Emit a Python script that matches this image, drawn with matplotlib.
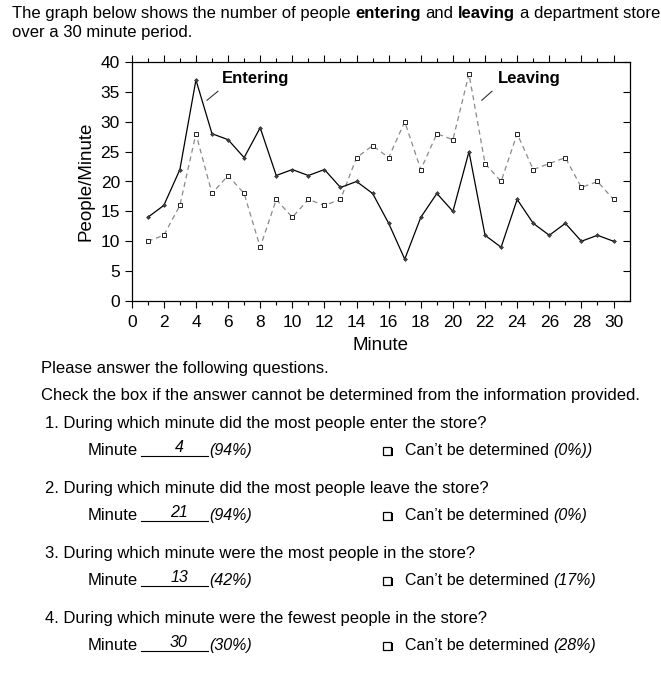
import matplotlib
matplotlib.use("Agg")
import matplotlib.pyplot as plt
from matplotlib.lines import Line2D
from matplotlib.patches import Rectangle

plt.rcParams['font.family'] = ['Liberation Sans', 'DejaVu Sans']

# data
minutes = list(range(1, 31))
entering = [14, 16, 22, 37, 28, 27, 24, 29, 21, 22, 21, 22, 19, 20, 18,
            13, 7, 14, 18, 15, 25, 11, 9, 17, 13, 11, 13, 10, 11, 10]
leaving = [10, 11, 16, 28, 18, 21, 18, 9, 17, 14, 17, 16, 17, 24, 26,
           24, 30, 22, 28, 27, 38, 23, 20, 28, 22, 23, 24, 19, 20, 17]

questions = [
    "1. During which minute did the most people enter the store?",
    "2. During which minute did the most people leave the store?",
    "3. During which minute were the most people in the store?",
    "4. During which minute were the fewest people in the store?",
]
answers = ["4", "21", "13", "30"]
answer_pct = ["(94%)", "(94%)", "(42%)", "(30%)"]
cant_pct = ["(0%))", "(0%)", "(17%)", "(28%)"]

W, H = 661, 674
fig = plt.figure(figsize=(W / 100, H / 100), dpi=100)
renderer = fig.canvas.get_renderer()


def fx(px):
    return px / W


def fy(py):
    return 1 - py / H


def text_width(s, **kw):
    t = fig.text(0, 0, s, **kw)
    w = t.get_window_extent(renderer).width
    t.remove()
    return w


def run_text(x, y, parts, size=11):
    # parts: list of (string, weight, style); words separated by explicit spaces
    space = text_width("x x", fontsize=size) - text_width("xx", fontsize=size)
    for i, (s, weight, style) in enumerate(parts):
        if i > 0:
            x += space
        t = fig.text(fx(x), fy(y), s, fontsize=size, fontweight=weight,
                     fontstyle=style, va='baseline', ha='left')
        x += t.get_window_extent(renderer).width


# header text
run_text(12, 18, [("The graph below shows the number of people", 'normal', 'normal'),
                  ("entering", 'bold', 'normal'),
                  ("and", 'normal', 'normal'),
                  ("leaving", 'bold', 'normal'),
                  ("a department store", 'normal', 'normal')], size=12)
run_text(12, 37, [("over a 30 minute period.", 'normal', 'normal')], size=12)

# the chart
ax = fig.add_axes([131.7 / W, 1 - 301 / H, (629.6 - 131.7) / W, (301 - 62) / H])
ax.plot(minutes, leaving, color='#8a8a8a', lw=0.9, ls=(0, (4, 3)),
        marker='s', ms=3.2, mfc='white', mec='#222222', mew=0.7)
ax.plot(minutes, entering, color='black', lw=0.9,
        marker='D', ms=2.0, mfc='#444444', mec='#222222', mew=0.4)

ax.set_xlim(0, 31)
ax.set_ylim(0, 40)
ax.set_xticks(range(0, 31, 2))
ax.set_xticks(range(1, 31, 2), minor=True)
ax.set_yticks(range(0, 41, 5))
ax.tick_params(axis='x', which='both', direction='out', top=True,
               labelsize=12.5, width=0.8, pad=5)
ax.tick_params(axis='x', which='major', length=5)
ax.tick_params(axis='x', which='minor', length=3)
ax.tick_params(axis='y', which='major', direction='out', length=5,
               labelsize=12.5, width=0.8)
ax.tick_params(axis='y', which='major', right=True)
for tk in ax.yaxis.get_major_ticks():
    tk.tick2line.set_marker(matplotlib.markers.TICKLEFT)
for sp in ax.spines.values():
    sp.set_linewidth(0.9)

ax.set_xlabel("Minute", fontsize=13.5, labelpad=5)
ax.set_ylabel("People/Minute", fontsize=13.5, labelpad=4)

ax.text(5.6, 37.3, "Entering", fontsize=12, fontweight='bold', va='center')
ax.plot([4.69, 5.37], [33.6, 35.1], color='#333333', lw=0.8)
ax.text(22.8, 37.3, "Leaving", fontsize=12, fontweight='bold', va='center')
ax.plot([21.8, 22.43], [33.6, 35.1], color='#333333', lw=0.8)

# questions below the chart
run_text(41, 373, [("Please answer the following questions.", 'normal', 'normal')], size=12)
run_text(41, 400, [("Check the box if the answer cannot be determined from the information provided.",
                    'normal', 'normal')], size=12)

q_base = [428, 493, 558, 623]
for q, ans, pct, cpct, yb in zip(questions, answers, answer_pct, cant_pct, q_base):
    run_text(45, yb, [(q, 'normal', 'normal')], size=12)
    ya = yb + 27
    fig.text(fx(88), fy(ya), "Minute", fontsize=12, va='baseline')
    fig.add_artist(Line2D([fx(141), fx(208)], [fy(ya + 1), fy(ya + 1)],
                          color='black', lw=0.8))
    fig.text(fx(179), fy(ya - 3), ans, fontsize=11.5, fontstyle='italic',
             va='baseline', ha='center')
    fig.text(fx(209), fy(ya), pct, fontsize=11.5, fontstyle='italic', va='baseline')
    # check box with shadow
    fig.add_artist(Rectangle((fx(384.5), fy(ya + 1)), 8.5 / W, 8.5 / H,
                             facecolor='black', edgecolor='none'))
    fig.add_artist(Rectangle((fx(383), fy(ya - 0.5)), 8 / W, 8 / H,
                             facecolor='white', edgecolor='black', lw=0.9))
    run_text(405, ya, [("Can\u2019t be determined", 'normal', 'normal'),
                       (cpct, 'normal', 'italic')], size=11.5)

fig.savefig("out.png", dpi=100)
